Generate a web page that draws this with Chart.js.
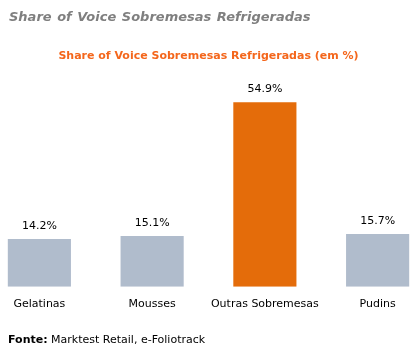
<!DOCTYPE html>
<html>
<head>
<meta charset="utf-8">
<script src="https://cdn.jsdelivr.net/npm/chart.js@4.4.1/dist/chart.umd.min.js"></script>
<style>
  html, body { margin: 0; padding: 0; background: #fff; }
  #page { position: relative; width: 416px; height: 352px; overflow: hidden; background: #fff; }
  #heading { position: absolute; left: 9px; top: 9px; font: italic bold 13px "DejaVu Sans", sans-serif; color: #7f7f7f; word-spacing: 1px; white-space: nowrap; }
  #footer { position: absolute; left: 8px; top: 333px; font: 11px "DejaVu Sans", sans-serif; color: #000; white-space: nowrap; }
  #wrap { position: absolute; left: -17px; top: 0; width: 451px; height: 352px; }
</style>
</head>
<body>
<div id="page">
  <div id="wrap"><canvas id="c" width="451" height="352"></canvas></div>
  <div id="heading">Share of Voice Sobremesas Refrigeradas</div>
  <div id="footer"><b>Fonte:</b> Marktest Retail, e-Foliotrack</div>
</div>
<script>
const categories = ["Gelatinas", "Mousses", "Outras Sobremesas", "Pudins"];
const shareValues = [14.2, 15.1, 54.9, 15.7];
const barColors = ["#b0bccc", "#b0bccc", "#e46c0a", "#b0bccc"];
const chartTitle = "Share of Voice Sobremesas Refrigeradas (em %)";

const valueLabels = {
  id: "valueLabels",
  afterDatasetsDraw(chart) {
    const ctx = chart.ctx;
    const meta = chart.getDatasetMeta(0);
    ctx.save();
    ctx.font = '11px "DejaVu Sans", sans-serif';
    ctx.fillStyle = "#000";
    ctx.textAlign = "center";
    ctx.textBaseline = "middle";
    meta.data.forEach((bar, i) => {
      ctx.fillText(shareValues[i].toFixed(1) + "%", bar.x, bar.y - 13);
    });
    ctx.restore();
  }
};

new Chart(document.getElementById("c"), {
  type: "bar",
  data: {
    labels: categories,
    datasets: [{
      data: shareValues,
      backgroundColor: barColors,
      borderWidth: 0,
      categoryPercentage: 1.0,
      barPercentage: 0.56
    }]
  },
  options: {
    responsive: false,
    devicePixelRatio: 1,
    animation: false,
    layout: { padding: { top: 0, bottom: 30, left: 0, right: 0 } },
    plugins: {
      legend: { display: false },
      tooltip: { enabled: false },
      title: {
        display: true,
        text: chartTitle,
        color: "#f4661b",
        font: { family: "DejaVu Sans", size: 11, weight: "bold" },
        padding: { top: 50, bottom: 22 }
      }
    },
    scales: {
      x: {
        grid: { display: false, drawTicks: false },
        border: { display: false },
        ticks: { color: "#000", padding: 11, maxRotation: 0, minRotation: 0, autoSkip: false, font: { family: "DejaVu Sans", size: 11 } }
      },
      y: { display: false, min: 0, max: 60 }
    }
  },
  plugins: [valueLabels]
});
</script>
</body>
</html>
